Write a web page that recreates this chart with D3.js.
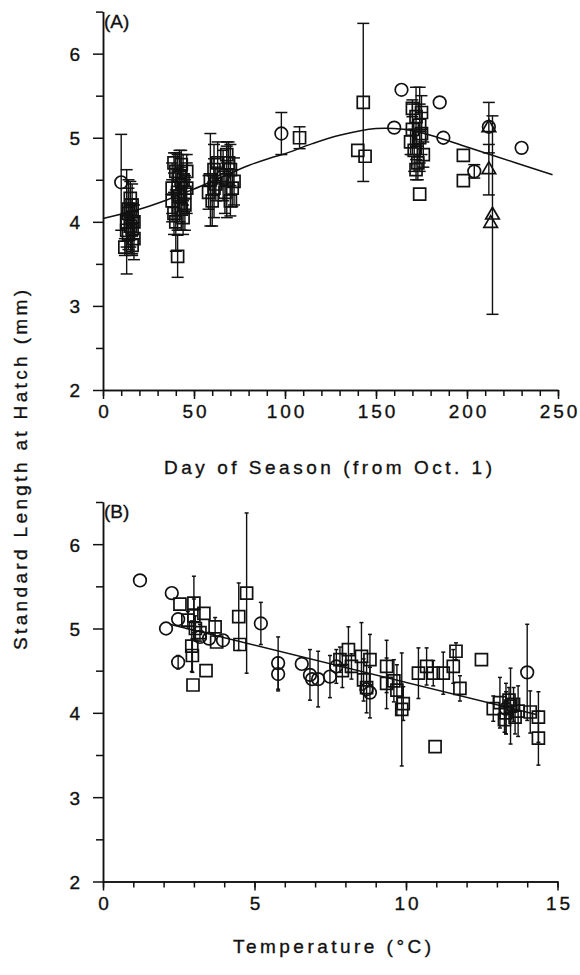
<!DOCTYPE html>
<html>
<head>
<meta charset="utf-8">
<script src="https://cdn.jsdelivr.net/npm/d3@7"></script>
<style>
  body { margin: 0; background: #fff; }
  text { font-family: "Liberation Sans", Arial, sans-serif; fill: #111; stroke: #111; stroke-width: 0.35; }
</style>
</head>
<body>
<svg id="chart" width="580" height="975"></svg>
<script>

// ---- panel A : day of season (from Oct. 1) ----
// [day, length, error]
var squaresA = [
  [13, 4.00, 0.62], [14, 4.10, 0.30], [15, 3.95, 0.25], [16, 4.05, 0.22], [14, 3.85, 0.18],
  [16, 4.20, 0.25], [12, 3.70, 0.10], [16, 3.72, 0.12], [15, 4.28, 0.20], [13, 3.90, 0.20],
  [17, 4.00, 0.20], [14, 4.15, 0.35], [17, 3.80, 0.25], [15, 4.12, 0.15], [16, 3.92, 0.30],
  [38, 4.40, 0.30], [40, 4.60, 0.22], [42, 4.30, 0.30], [44, 4.50, 0.30], [39, 4.10, 0.25],
  [41, 3.59, 0.25], [43, 4.68, 0.17], [45, 4.20, 0.30], [40, 4.00, 0.35], [46, 4.40, 0.30],
  [42, 4.55, 0.30], [38, 4.25, 0.25], [44, 4.05, 0.20], [41, 4.35, 0.45], [46, 4.60, 0.20],
  [39, 4.70, 0.12], [43, 4.15, 0.25], [45, 4.35, 0.20],
  [59, 4.50, 0.55], [61, 4.62, 0.30], [60, 4.25, 0.30], [62, 4.45, 0.20], [63, 4.70, 0.25],
  [58, 4.35, 0.20], [61, 4.40, 0.35],
  [68, 4.50, 0.45], [70, 4.62, 0.30], [67, 4.35, 0.25], [71, 4.40, 0.22], [69, 4.70, 0.25],
  [72, 4.48, 0.28], [70, 4.25, 0.18], [68, 4.80, 0.10],
  [108, 5.00, 0.13], [143, 5.42, 0.94], [140, 4.85, 0], [144, 4.78, 0],
  [170, 5.10, 0.30], [172, 5.25, 0.35], [174, 5.00, 0.40], [171, 4.85, 0.25], [175, 5.30, 0.20],
  [169, 4.95, 0.15], [173, 4.70, 0.20], [176, 4.80, 0.15], [170, 5.35, 0.10], [174, 5.15, 0.45],
  [172, 4.62, 0.12], [175, 5.05, 0.25], [174, 4.33, 0],
  [198, 4.79, 0], [198, 4.49, 0]
];
var circlesA = [
  [10, 4.47, 0.57], [43, 4.45, 0.20], [66, 4.55, 0.30], [98, 5.05, 0.25], [160, 5.12, 0],
  [164, 5.57, 0], [185, 5.42, 0], [187, 5.00, 0], [204, 4.60, 0.08], [212, 5.13, 0], [230, 4.88, 0]
];
var trianglesA = [
  [212, 5.12, 0.30], [212, 4.62, 0.30], [214, 4.08, 1.18], [213, 3.98, 0]
];
// fitted curve
var curveA = [
  [0, 4.04], [20, 4.15], [35, 4.26], [50, 4.39], [65, 4.53], [80, 4.67], [92, 4.76],
  [100, 4.81], [115, 4.93], [130, 5.03], [150, 5.11], [165, 5.10], [180, 5.03],
  [200, 4.89], [227, 4.70], [247, 4.56]
];

// ---- panel B : temperature ----
// [temperature, length, error]
var squaresB = [
  [2.54, 5.29, 0], [3.00, 5.30, 0.32], [3.00, 5.15, 0.20], [3.05, 5.00, 0.15], [3.33, 5.18, 0],
  [2.93, 4.79, 0.30], [2.95, 4.68, 0.20], [2.97, 4.33, 0], [3.40, 4.50, 0], [3.70, 5.02, 0.11],
  [3.75, 4.84, 0], [2.80, 5.10, 0.10], [3.20, 4.95, 0.10],
  [4.48, 5.14, 0.40], [4.74, 5.42, 0.95], [4.52, 4.81, 0],
  [7.82, 4.63, 0.15], [8.10, 4.75, 0.27], [7.90, 4.50, 0.20], [8.20, 4.55, 0.15], [8.53, 4.67, 0.40],
  [8.81, 4.63, 0.30], [8.60, 4.39, 0.25], [8.70, 4.30, 0.30], [9.36, 4.55, 0.31], [9.36, 4.35, 0.30],
  [9.60, 4.38, 0.25], [9.70, 4.27, 0.30], [9.91, 4.11, 0.20], [9.86, 4.04, 0.67],
  [10.41, 4.47, 0.30], [10.68, 4.55, 0.22], [10.90, 4.47, 0.15], [10.96, 3.60, 0],
  [11.23, 4.47, 0.25], [11.56, 4.55, 0.20], [11.65, 4.73, 0.10], [11.78, 4.29, 0.15],
  [12.49, 4.63, 0], [12.88, 4.05, 0.15], [13.10, 4.12, 0.30], [13.30, 4.00, 0.25],
  [13.45, 4.08, 0.45], [13.60, 3.95, 0.20], [13.40, 4.15, 0.15], [13.70, 4.02, 0.30],
  [13.25, 3.92, 0.15], [13.55, 4.10, 0.20], [14.10, 4.01, 0.25], [14.37, 3.95, 0.30], [14.37, 3.70, 0.32]
];
var circlesB = [
  [1.22, 5.57, 0], [2.27, 5.42, 0], [2.48, 5.11, 0], [2.08, 5.00, 0], [2.48, 4.60, 0.08],
  [3.20, 4.90, 0], [3.50, 4.88, 0], [3.96, 4.86, 0], [5.21, 5.06, 0.25], [5.78, 4.59, 0.31],
  [5.78, 4.46, 0.20], [6.56, 4.58, 0], [6.83, 4.45, 0.30], [6.90, 4.40, 0], [7.10, 4.40, 0.33],
  [7.49, 4.43, 0.25], [7.70, 4.55, 0.20], [8.70, 4.28, 0], [8.81, 4.24, 0.30],
  [13.30, 4.05, 0.30], [14.00, 4.48, 0.57]
];
var lineB = [[2.2, 5.05], [14.3, 3.98]];

var xTicksA = [0, 50, 100, 150, 200, 250];
var xTicksB = [0, 5, 10, 15];
var yTicks = [2, 3, 4, 5, 6];

var svg = d3.select('#chart');

function panel(cfg){
  var g = svg.append('g');
  var x = cfg.x, y = cfg.y;

  // minor ticks
  g.append('g').attr('transform', 'translate(0,' + y.range()[0] + ')')
    .call(d3.axisBottom(x).tickValues(cfg.xMinor).tickSize(6).tickFormat('').tickSizeOuter(0));
  g.append('g').attr('transform', 'translate(' + x.range()[0] + ',0)')
    .call(d3.axisLeft(y).tickValues(d3.range(2.5, 6.6, 1)).tickSize(7).tickFormat('').tickSizeOuter(0));
  // major ticks
  var xa = g.append('g').attr('transform', 'translate(0,' + y.range()[0] + ')')
    .call(d3.axisBottom(x).tickValues(cfg.xMajor).tickSize(9).tickPadding(6)
      .tickFormat(d3.format('d')).tickSizeOuter(0));
  var ya = g.append('g').attr('transform', 'translate(' + x.range()[0] + ',0)')
    .call(d3.axisLeft(y).tickValues(yTicks).tickSize(10).tickPadding(13)
      .tickFormat(d3.format('d')).tickSizeOuter(0));

  g.selectAll('.domain, .tick line').attr('stroke', '#111').attr('stroke-width', 1.5);
  xa.selectAll('text').attr('font-size', 19).attr('letter-spacing', 3).attr('dx', 1.5);
  ya.selectAll('text').attr('font-size', 19).attr('dy', '0.36em');
  g.selectAll('.tick text').style('font-family', '"Liberation Sans", Arial, sans-serif').attr('fill', '#111');

  g.append('text').attr('x', x.range()[0] + 1).attr('y', y.range()[1] + 16)
    .attr('font-size', 19).text(cfg.label);

  // fitted line
  g.append('path').datum(cfg.fit)
    .attr('fill', 'none').attr('stroke', '#111').attr('stroke-width', 1.5)
    .attr('d', d3.line().x(function(d){ return x(d[0]); }).y(function(d){ return y(d[1]); })
      .curve(d3.curveCatmullRom));

  // points + error bars
  var sets = [
    {data: cfg.squares, type: d3.symbolSquare, size: 144},
    {data: cfg.circles, type: d3.symbolCircle, size: 125},
    {data: cfg.triangles || [], type: d3.symbolTriangle, size: 80}
  ];
  sets.forEach(function(s){
    var pts = g.append('g');
    s.data.forEach(function(p){
      var px = x(p[0]), py = y(p[1]);
      if (p[2] > 0) {
        var y0 = y(p[1] - p[2]), y1 = y(p[1] + p[2]);
        pts.append('line').attr('x1', px).attr('x2', px).attr('y1', y0).attr('y2', y1)
          .attr('stroke', '#111').attr('stroke-width', 1.4);
        [y0, y1].forEach(function(yy){
          pts.append('line').attr('x1', px - cfg.cap).attr('x2', px + cfg.cap)
            .attr('y1', yy).attr('y2', yy)
            .attr('stroke', '#111').attr('stroke-width', 1.5);
        });
      }
      pts.append('path')
        .attr('d', d3.symbol().type(s.type).size(s.size)())
        .attr('transform', 'translate(' + px + ',' + py + ')')
        .attr('fill', 'none').attr('stroke', '#111').attr('stroke-width', 1.7);
    });
  });

  g.append('text').attr('x', cfg.titleX).attr('y', cfg.titleY)
    .attr('text-anchor', 'middle').attr('font-size', 19)
    .attr('textLength', cfg.titleLen).attr('lengthAdjust', 'spacing')
    .text(cfg.title);
}

panel({
  x: d3.scaleLinear().domain([0, 250]).range([103, 558]),
  y: d3.scaleLinear().domain([2, 6.5]).range([390, 11.6]),
  xMajor: xTicksA,
  xMinor: d3.range(0, 251, 10),
  label: '(A)',
  fit: curveA,
  squares: squaresA, circles: circlesA, triangles: trianglesA,
  cap: 6,
  title: 'Day of Season (from Oct. 1)', titleX: 328, titleY: 474, titleLen: 328
});

panel({
  x: d3.scaleLinear().domain([0, 15]).range([103, 557.5]),
  y: d3.scaleLinear().domain([2, 6.5]).range([881.5, 502]),
  xMajor: xTicksB,
  xMinor: d3.range(0, 15.1, 1),
  label: '(B)',
  fit: lineB,
  squares: squaresB, circles: circlesB,
  cap: 2,
  title: 'Temperature (\u00B0C)', titleX: 332, titleY: 953, titleLen: 198
});

// shared y title
svg.append('text')
  .attr('transform', 'translate(27,470) rotate(-90)')
  .attr('text-anchor', 'middle').attr('font-size', 19)
  .attr('textLength', 360).attr('lengthAdjust', 'spacing')
  .text('Standard Length at Hatch (mm)');

</script>
</body>
</html>
